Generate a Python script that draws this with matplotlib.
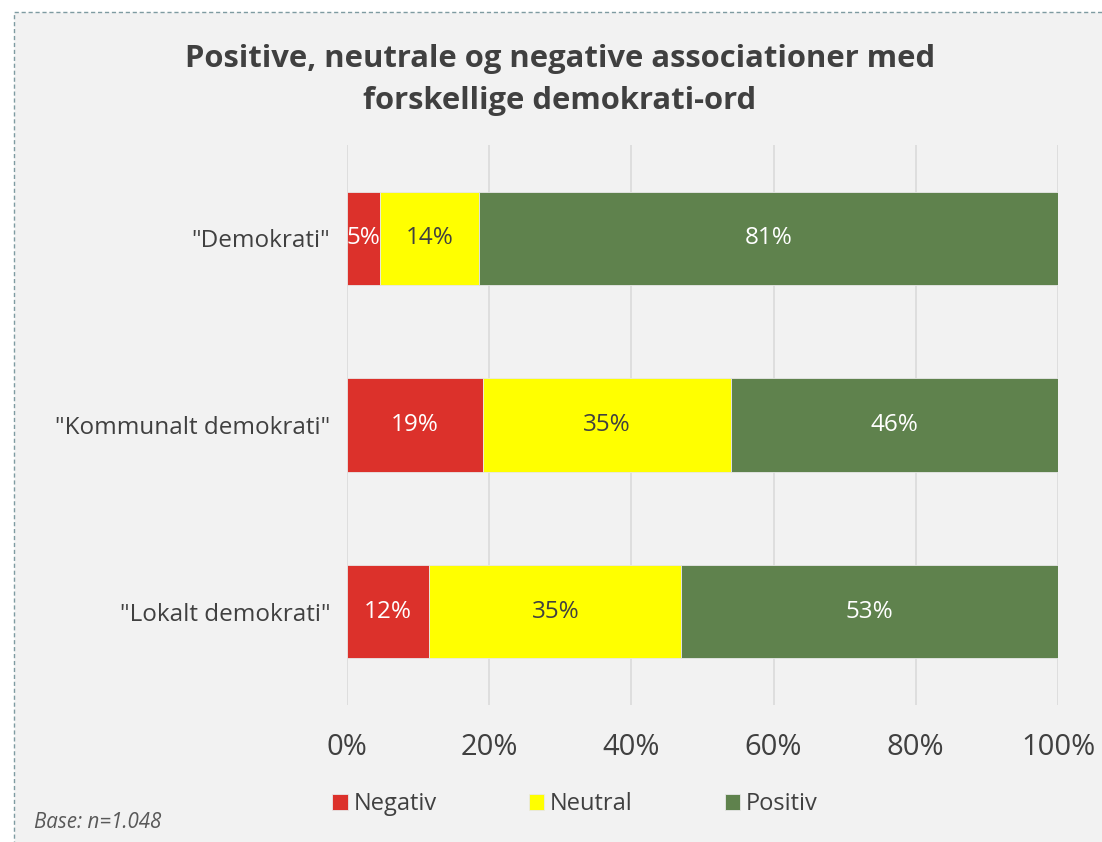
import numpy as np
import matplotlib.pyplot as plt
from matplotlib.patches import Rectangle

categories = ['"Demokrati"', '"Kommunalt demokrati"', '"Lokalt demokrati"']
series = ['Negativ', 'Neutral', 'Positiv']
negativ = [4.7, 19.1, 11.6]
neutral = [13.9, 34.9, 35.4]
positiv = [81.4, 46.0, 53.0]
colors = ['#DC312B', '#FFFF00', '#5F824D']
label_colors = ['white', '#404040', 'white']
xticks = [0, 20, 40, 60, 80, 100]

plt.rcParams['font.family'] = ['Open Sans', 'DejaVu Sans']

W, H = 1102, 842
fig = plt.figure(figsize=(W / 100, H / 100), dpi=100)
fig.patch.set_facecolor('white')

# grey panel with dashed border, cut off on right and bottom
fig.patches.append(Rectangle((14 / W, -0.05), 1.1, 1 - 12 / H + 0.05,
                             transform=fig.transFigure, facecolor='#F2F2F2',
                             edgecolor='#7E9BA1', linestyle=(0, (3, 2)),
                             linewidth=1.0, zorder=-5))

ax = fig.add_axes([347 / W, 1 - 705 / H, (1058 - 347) / W, (705 - 145) / H])
ax.set_facecolor('none')
ax.set_zorder(1)

y = np.arange(len(categories))
left = np.zeros(len(categories))
for vals, name, c, lc in zip([negativ, neutral, positiv], series, colors, label_colors):
    bars = ax.barh(y, vals, left=left, height=0.5, color=c, label=name,
                   edgecolor='#E8E8E8', linewidth=0.6, zorder=2)
    for b, v, l in zip(bars, vals, left):
        ax.text(l + v / 2, b.get_y() + b.get_height() / 2, f'{v:.0f}%',
                ha='center', va='center', color=lc, fontsize=17.5, zorder=3)
    left = left + np.array(vals)

ax.set_xlim(0, 100)
ax.set_ylim(2.5, -0.5)
ax.set_xticks(xticks)
ax.set_xticklabels([f'{t}%' for t in xticks])
ax.set_yticks(y)
ax.set_yticklabels(categories)
ax.tick_params(axis='x', length=0, labelsize=21, labelcolor='#404040', pad=20)
ax.tick_params(axis='y', length=0, labelsize=17.5, labelcolor='#404040', pad=12)
ax.grid(axis='x', color='#D9D9D9', linewidth=1.1, zorder=0)
for s in ax.spines.values():
    s.set_visible(False)

fig.text(0.5 + 0.008, 1 - 80 / H, 'Positive, neutrale og negative associationer med\nforskellige demokrati-ord',
         ha='center', va='center', fontsize=22.3, fontweight='bold', color='#404040',
         linespacing=1.5)

leg = fig.legend(loc='center', bbox_to_anchor=(575 / W, 1 - 804 / H), ncol=3,
                 frameon=False, fontsize=17, handlelength=0.65, handleheight=0.65,
                 handletextpad=0.25, columnspacing=3.9, labelcolor='#404040')

fig.text(34 / W, 1 - 822 / H, 'Base: n=1.048', ha='left', va='center',
         fontsize=14.8, style='italic', color='#595959')

fig.savefig('out.png', dpi=100, facecolor=fig.get_facecolor())
